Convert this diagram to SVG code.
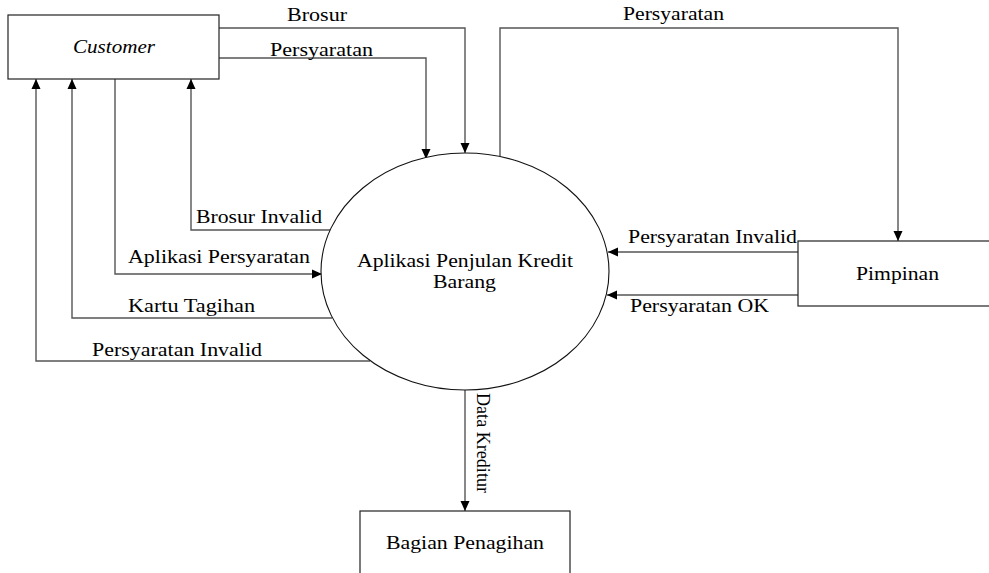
<svg xmlns="http://www.w3.org/2000/svg" width="989" height="573" viewBox="0 0 989 573">
  <style>
    text { font-family: 'Liberation Serif', 'Times New Roman', serif; font-size: 19px; fill: #000; }
    .box { fill: #fff; stroke: #222; stroke-width: 1.2; }
    .proc { fill: #fff; stroke: #111; stroke-width: 1.1; }
    .flow { fill: none; stroke: #555; stroke-width: 1.4; }
    .arr { marker-end: url(#head); }
  </style>
  <defs>
    <marker id="head" markerUnits="userSpaceOnUse" markerWidth="10" markerHeight="10" viewBox="0 0 10 10" refX="10" refY="5" orient="auto">
      <path d="M0,0.5 L10,5 L0,9.5 Z" fill="#000"/>
    </marker>
  </defs>

  <!-- data flows -->
  <g id="connectors">
    <!-- Customer -> process -->
    <path class="flow arr" d="M219,28 H465 V153"/>
    <path class="flow arr" d="M219,58 H426 V159"/>
    <path class="flow arr" d="M115,79 V274 H322"/>
    <!-- process -> Customer -->
    <path class="flow arr" d="M330,230 H191 V79"/>
    <path class="flow arr" d="M332,318 H72 V79"/>
    <path class="flow arr" d="M370,361 H36 V79"/>
    <!-- process <-> Pimpinan -->
    <path class="flow arr" d="M500,156 V28 H898 V241"/>
    <path class="flow arr" d="M798,252 H608"/>
    <path class="flow arr" d="M798,295 H607"/>
    <!-- process -> Bagian Penagihan -->
    <path class="flow arr" d="M465,390 V511"/>

    <text x="287" y="21" textLength="60" lengthAdjust="spacingAndGlyphs">Brosur</text>
    <text x="270" y="56" textLength="103" lengthAdjust="spacingAndGlyphs">Persyaratan</text>
    <text x="623" y="20" textLength="101" lengthAdjust="spacingAndGlyphs">Persyaratan</text>
    <text x="196" y="223" textLength="126" lengthAdjust="spacingAndGlyphs">Brosur Invalid</text>
    <text x="128" y="263" textLength="182" lengthAdjust="spacingAndGlyphs">Aplikasi Persyaratan</text>
    <text x="128" y="312" textLength="127" lengthAdjust="spacingAndGlyphs">Kartu Tagihan</text>
    <text x="92" y="356" textLength="170" lengthAdjust="spacingAndGlyphs">Persyaratan Invalid</text>
    <text x="628" y="243" textLength="169" lengthAdjust="spacingAndGlyphs">Persyaratan Invalid</text>
    <text x="630" y="312" textLength="139" lengthAdjust="spacingAndGlyphs">Persyaratan OK</text>
    <text transform="translate(477,393) rotate(90)" textLength="100" lengthAdjust="spacingAndGlyphs">Data Kreditur</text>
  </g>

  <g id="customer">
    <rect class="box" x="8" y="15" width="211" height="64"/>
    <text x="73" y="53" font-style="italic" textLength="82" lengthAdjust="spacingAndGlyphs">Customer</text>
  </g>

  <g id="process">
    <ellipse class="proc" cx="465" cy="271.5" rx="144" ry="118.5"/>
    <text x="357" y="267" textLength="216" lengthAdjust="spacingAndGlyphs">Aplikasi Penjulan Kredit</text>
    <text x="433" y="288" textLength="63" lengthAdjust="spacingAndGlyphs">Barang</text>
  </g>

  <g id="pimpinan">
    <rect class="box" x="798" y="241" width="200" height="65"/>
    <text x="856" y="280" textLength="83" lengthAdjust="spacingAndGlyphs">Pimpinan</text>
  </g>

  <g id="bagian-penagihan">
    <rect class="box" x="360" y="511" width="210" height="80"/>
    <text x="386" y="549" textLength="158" lengthAdjust="spacingAndGlyphs">Bagian Penagihan</text>
  </g>
</svg>
